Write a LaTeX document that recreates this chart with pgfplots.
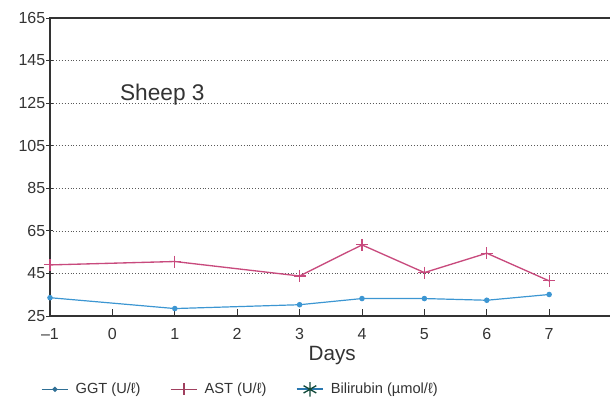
\documentclass[border=0pt]{standalone}
\usepackage{fontspec}
\setmainfont{Liberation Sans}
\usepackage{pgfplots}
\pgfplotsset{compat=1.18}
\definecolor{ggt}{HTML}{3C96D2}
\definecolor{ggtl}{HTML}{2F6F95}
\definecolor{ast}{HTML}{C84A7D}
\definecolor{astl}{HTML}{A0405F}
\definecolor{bil}{HTML}{2A78B0}
\definecolor{bilm}{HTML}{124A3A}
\begin{document}
\begin{tikzpicture}
\begin{axis}[
  scale only axis, width=435.2pt, height=223.5pt,
  xmin=-1, xmax=8.3, ymin=25, ymax=165,
  xtick={-1,0,1,2,3,4,5,6,7},
  xticklabels={\textendash1,0,1,2,3,4,5,6,7},
  ytick={25,45,65,85,105,125,145,165},
  tick align=inside, xtick pos=lower, ytick pos=left,
  major tick length=5pt,
  y tick style={xshift=-3pt},
  ymajorgrids,
  grid style={black!65, dash pattern=on 0.5pt off 1.7pt, line width=0.5pt},
  axis line style={black!80, line width=0.8pt},
  tick style={black!80, line width=0.7pt},
  ticklabel style={font=\fontsize{12}{12}\selectfont, text=black!80},
  xticklabel style={yshift=-6pt},
  /pgf/number format/assume math mode=true,
  xlabel={Days},
  xlabel style={font=\fontsize{15.5}{16}\selectfont, text=black!80, yshift=2pt, xshift=-6pt},
  legend columns=3,
  legend cell align=left,
  legend style={draw=none, fill=none, at={(rel axis cs:0,0)}, anchor=west,
    xshift=-10pt, yshift=-55pt, font=\fontsize{11}{11}\selectfont,
    text=black!80,
    /tikz/every odd column/.append style={column sep=3pt},
    /tikz/every even column/.append style={column sep=20pt}},
  legend image code/.code={\draw[mark repeat=2,mark phase=2,#1] plot coordinates {(0pt,0pt) (10pt,0pt) (20pt,0pt)};},
]
\addplot[ggt, line width=0.9pt, mark=*, mark size=1.6pt, forget plot] coordinates {
  (-1,33.6) (1,28.5) (3,30.3) (4,33.2) (5,33.2) (6,32.4) (7,35.1)};
\addplot[ast, line width=1pt, mark=+, mark size=4.5pt, mark options={line width=0.8pt}, forget plot] coordinates {
  (-1,49.0) (1,50.6) (3,43.8) (4,58.4) (5,45.4) (6,54.5) (7,41.5)};
\addlegendimage{ggtl, line width=1pt, mark=*, mark size=1.4pt}
\addlegendentry{GGT (U/ℓ)}
\addlegendimage{astl, line width=1pt, mark=+, mark size=4.5pt, mark options={line width=0.9pt}}
\addlegendentry{AST (U/ℓ)}
\addlegendimage{bil, line width=1.3pt, mark=asterisk, mark size=5.5pt, mark options={bilm, line width=1pt}}
\addlegendentry{Bilirubin (µmol/ℓ)}
\node[font=\fontsize{17}{17}\selectfont, text=black!80] at (axis cs:0.8,129) {Sheep 3};
\end{axis}
\pgfresetboundingbox
\path (-37.5pt,-63pt) rectangle (420pt,237pt);
\end{tikzpicture}
\end{document}
